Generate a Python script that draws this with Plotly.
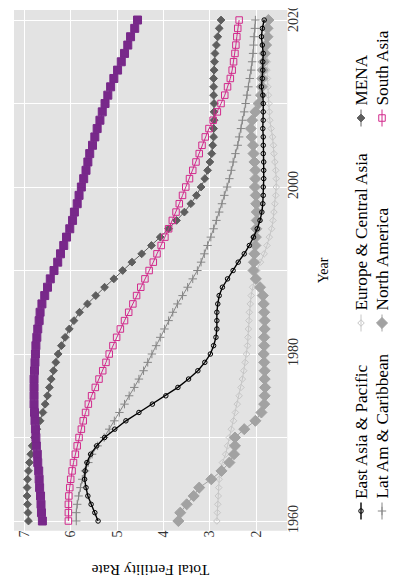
import plotly.graph_objects as go

years = list(range(1960, 2021))

east_asia = [5.41, 5.48, 5.56, 5.63, 5.67, 5.70, 5.69, 5.65, 5.57, 5.44,
             5.27, 5.05, 4.81, 4.53, 4.24, 3.95, 3.69, 3.46, 3.26, 3.11,
             2.99, 2.92, 2.87, 2.85, 2.85, 2.85, 2.83, 2.80, 2.73, 2.62,
             2.50, 2.39, 2.26, 2.15, 2.06, 1.98, 1.92, 1.88, 1.86, 1.85,
             1.85, 1.84, 1.84, 1.84, 1.85, 1.85, 1.85, 1.86, 1.85, 1.85,
             1.85, 1.86, 1.89, 1.87, 1.86, 1.86, 1.85, 1.87, 1.89, 1.87, 1.83]

europe = [2.85, 2.84, 2.83, 2.82, 2.81, 2.80, 2.79, 2.73, 2.66, 2.62,
          2.58, 2.54, 2.49, 2.45, 2.41, 2.37, 2.33, 2.30, 2.27, 2.24,
          2.21, 2.19, 2.18, 2.17, 2.16, 2.15, 2.13, 2.11, 2.08, 2.04,
          1.99, 1.91, 1.83, 1.77, 1.72, 1.67, 1.64, 1.62, 1.60, 1.58,
          1.57, 1.57, 1.58, 1.60, 1.62, 1.63, 1.65, 1.68, 1.71, 1.72,
          1.73, 1.74, 1.75, 1.76, 1.77, 1.76, 1.76, 1.75, 1.73, 1.72, 1.70]

latam = [5.88, 5.88, 5.86, 5.83, 5.79, 5.75, 5.69, 5.62, 5.54, 5.42,
         5.28, 5.17, 5.06, 4.95, 4.84, 4.74, 4.63, 4.53, 4.43, 4.34,
         4.25, 4.16, 4.07, 3.98, 3.89, 3.80, 3.70, 3.59, 3.48, 3.37,
         3.27, 3.19, 3.12, 3.05, 2.98, 2.92, 2.86, 2.80, 2.74, 2.69,
         2.63, 2.58, 2.54, 2.50, 2.45, 2.40, 2.37, 2.33, 2.30, 2.26,
         2.23, 2.20, 2.17, 2.14, 2.11, 2.09, 2.07, 2.06, 2.05, 2.03, 2.02]

mena = [6.91, 6.92, 6.93, 6.94, 6.94, 6.93, 6.91, 6.89, 6.86, 6.83,
        6.78, 6.73, 6.66, 6.60, 6.55, 6.50, 6.46, 6.42, 6.37, 6.32,
        6.27, 6.20, 6.12, 6.03, 5.93, 5.81, 5.64, 5.46, 5.27, 5.07,
        4.88, 4.68, 4.47, 4.26, 4.07, 3.89, 3.72, 3.55, 3.41, 3.29,
        3.19, 3.11, 3.05, 3.00, 2.96, 2.94, 2.92, 2.92, 2.91, 2.91,
        2.91, 2.92, 2.92, 2.92, 2.91, 2.90, 2.89, 2.86, 2.83, 2.80, 2.76]

north_america = [3.68, 3.64, 3.50, 3.35, 3.23, 2.97, 2.75, 2.58, 2.48, 2.46,
                 2.46, 2.26, 2.02, 1.89, 1.83, 1.82, 1.81, 1.82, 1.82, 1.83,
                 1.84, 1.83, 1.83, 1.82, 1.82, 1.83, 1.84, 1.86, 1.92, 2.01,
                 2.06, 2.05, 2.04, 2.02, 2.01, 2.00, 1.99, 1.99, 2.00, 2.01,
                 2.03, 2.02, 2.02, 2.04, 2.06, 2.07, 2.10, 2.12, 2.09, 2.02,
                 1.95, 1.90, 1.88, 1.87, 1.86, 1.84, 1.82, 1.79, 1.76, 1.76, 1.74]

south_asia = [6.05, 6.05, 6.05, 6.04, 6.02, 6.00, 5.97, 5.94, 5.90, 5.86,
              5.82, 5.77, 5.73, 5.68, 5.62, 5.55, 5.47, 5.39, 5.31, 5.24,
              5.17, 5.09, 5.01, 4.93, 4.84, 4.75, 4.66, 4.58, 4.49, 4.40,
              4.31, 4.22, 4.14, 4.05, 3.97, 3.89, 3.81, 3.73, 3.66, 3.59,
              3.52, 3.44, 3.37, 3.30, 3.23, 3.17, 3.10, 3.02, 2.93, 2.84,
              2.76, 2.68, 2.62, 2.56, 2.52, 2.49, 2.46, 2.44, 2.42, 2.40, 2.37]

ssa = [6.61, 6.63, 6.64, 6.65, 6.67, 6.68, 6.69, 6.71, 6.72, 6.74,
       6.75, 6.76, 6.77, 6.78, 6.79, 6.79, 6.79, 6.79, 6.78, 6.77,
       6.76, 6.75, 6.73, 6.71, 6.68, 6.66, 6.62, 6.56, 6.50, 6.44,
       6.36, 6.28, 6.22, 6.15, 6.09, 6.02, 5.96, 5.92, 5.86, 5.82,
       5.77, 5.72, 5.67, 5.63, 5.59, 5.53, 5.48, 5.43, 5.37, 5.32,
       5.26, 5.20, 5.14, 5.07, 4.99, 4.91, 4.84, 4.77, 4.71, 4.62, 4.56]

region_names = ["East Asia & Pacific", "Europe & Central Asia", "Lat Am & Caribbean",
                "MENA", "North America", "South Asia", "Sub\u2212Saharan Africa"]
series = [east_asia, europe, latam, mena, north_america, south_asia, ssa]

tfr_ticks = [7, 6, 5, 4, 3, 2]
year_ticks = [1960, 1980, 2000, 2020]
year_minor = [1970, 1990, 2010]

# styles
styles = [
    dict(color="#000000", symbol="circle-open", size=4.5, lw=1.4),
    dict(color="#C6C6C6", symbol="diamond-open", size=5, lw=1.0),
    dict(color="#868686", symbol="cross-thin", size=6, lw=1.0),
    dict(color="#5E5E5E", symbol="diamond", size=6, lw=1.0),
    dict(color="#A2A2A2", symbol="diamond", size=8.5, lw=1.0),
    dict(color="#D22A8C", symbol="square-open", size=6.5, lw=1.0),
    dict(color="#78288A", symbol="square", size=8, lw=1.0),
]
draw_order = [1, 2, 3, 4, 5, 6, 0]

W, H = 401, 578
PL, PR, PT, PB = 6.0, 279.3, 2.0, 522.7
FONT = "Liberation Serif"

fig = go.Figure()

for i in draw_order:
    name, vals, st = region_names[i], series[i], styles[i]
    fig.add_trace(go.Scatter(
        x=vals, y=years, mode="lines+markers", name=name, showlegend=False,
        line=dict(color=st["color"], width=st["lw"]),
        marker=dict(symbol=st["symbol"], size=st["size"], color=st["color"],
                    line=dict(color=st["color"], width=1)),
        xaxis="x", yaxis="y"))

# legend (drawn on an auxiliary pixel-coordinate axis pair)
legend_pos = [(353, 503), (353, 315), (374, 503), (353, 110), (374, 315), (374, 110), (395, 503)]
for name, st, (lx, ly) in zip(region_names, styles, legend_pos):
    fig.add_trace(go.Scatter(
        x=[lx, lx], y=[ly - 8.5, ly + 8.5], mode="lines", showlegend=False,
        line=dict(color=st["color"], width=st["lw"]), xaxis="x2", yaxis="y2",
        cliponaxis=False, hoverinfo="skip"))
    fig.add_trace(go.Scatter(
        x=[lx], y=[ly], mode="markers", showlegend=False,
        marker=dict(symbol=st["symbol"], size=st["size"], color=st["color"],
                    line=dict(color=st["color"], width=1)),
        xaxis="x2", yaxis="y2", cliponaxis=False, hoverinfo="skip"))
    fig.add_annotation(x=lx, y=ly - 10, xref="x2", yref="y2", text=name,
                       showarrow=False, textangle=-90, xanchor="center", yanchor="bottom",
                       font=dict(family=FONT, size=17.2, color="#000000"))

fig.add_annotation(x=315, y=(PT + PB) / 2, xref="x2", yref="y2", text="Year",
                   showarrow=False, textangle=-90, xanchor="center", yanchor="middle",
                   font=dict(family=FONT, size=14, color="#000000"))
fig.add_annotation(x=(PL + PR) / 2, y=563, xref="x2", yref="y2", text="Total Fertility Rate",
                   showarrow=False, textangle=180, xanchor="center", yanchor="middle",
                   font=dict(family=FONT, size=15.5, color="#000000"))

fig.add_shape(type="rect", xref="x domain", yref="y domain", x0=0, x1=1, y0=0, y1=1,
              fillcolor="#E3E3E3", line=dict(width=0), layer="below")

fig.update_layout(
    width=W, height=H,
    margin=dict(l=0, r=0, t=0, b=0),
    paper_bgcolor="white", plot_bgcolor="rgba(0,0,0,0)",
    showlegend=False,
    xaxis=dict(domain=[PL / W, PR / W], range=[7.222, 1.332], anchor="y",
               tickvals=tfr_ticks, ticktext=[str(t) for t in tfr_ticks],
               tickangle=-90, showgrid=True, gridcolor="white", gridwidth=1.3,
               zeroline=False, showline=False, ticks="", automargin=False,
               ticklabelstandoff=-4, ticklabeloverflow="allow",
               tickfont=dict(family=FONT, size=14, color="#333333")),
    yaxis=dict(domain=[1 - PB / H, 1 - PT / H], range=[1958.84, 2021.2], anchor="x",
               side="right", tickvals=year_ticks, ticktext=[str(t) for t in year_ticks],
               tickangle=-90, showgrid=True, gridcolor="white", gridwidth=1.3,
               minor=dict(tickvals=year_minor, showgrid=True, gridcolor="white", gridwidth=1.0),
               zeroline=False, showline=False, ticks="", automargin=False,
               ticklabelstandoff=-4, ticklabeloverflow="allow",
               tickfont=dict(family=FONT, size=14, color="#333333")),
    xaxis2=dict(domain=[0, 1], range=[0, W], anchor="y2", visible=False, fixedrange=True),
    yaxis2=dict(domain=[0, 1], range=[H, 0], anchor="x2", visible=False, fixedrange=True),
)

fig.write_html("out.html")
